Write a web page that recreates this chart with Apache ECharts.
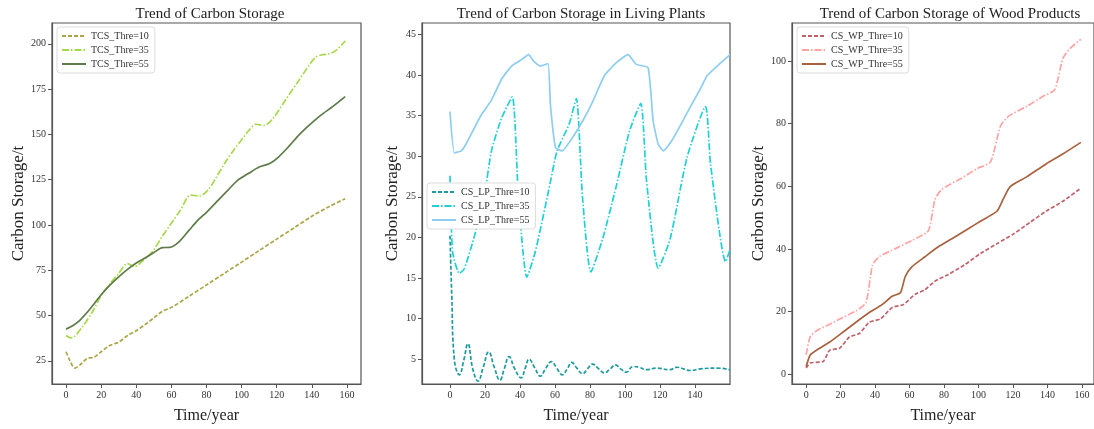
<!DOCTYPE html>
<html>
<head>
<meta charset="utf-8">
<script src="https://cdn.jsdelivr.net/npm/echarts@6/dist/echarts.min.js"></script>
<style>
  html, body { margin: 0; padding: 0; background: #fff; }
  #main { width: 1094px; height: 429px; }
</style>
</head>
<body>
<div id="main"></div>
<script>
// tick labels
var xTicks = [0, 20, 40, 60, 80, 100, 120, 140, 160];
var xTicksLP = [0, 20, 40, 60, 80, 100, 120, 140];
var yTicksTCS = [25, 50, 75, 100, 125, 150, 175, 200];
var yTicksLP = [5, 10, 15, 20, 25, 30, 35, 40, 45];
var yTicksWP = [0, 20, 40, 60, 80, 100];

// total carbon storage
var tcs10Years = [0, 2, 5, 8, 12, 16, 20, 25, 30, 35, 40, 45, 50, 55, 60, 70, 80, 90, 100, 110, 120, 130, 140, 150, 159];
var tcs10 = [30, 25.5, 21, 22.8, 26.3, 27, 30, 33.5, 35.3, 39, 41.6, 45, 48.7, 52.4, 54.5, 60.6, 66.9, 73.2, 79.5, 85.9, 92.2, 98.5, 104.8, 110.2, 114.5];
var tcs35Years = [0, 3, 9, 15, 20, 25, 30, 35, 39, 44, 49, 55, 60, 65, 71, 76, 81, 86, 91, 96, 100, 104, 108, 113, 118, 125, 132, 138, 142, 146, 150, 154, 159];
var tcs35 = [39, 37.6, 43.4, 52, 61, 67.5, 73.2, 78.7, 77, 80.5, 85, 94, 101, 108, 116.5, 116, 119.5, 127, 135, 142, 147, 152, 155.6, 155, 159, 169, 179, 187.5, 192.5, 194, 194.5, 196.5, 201.6];
var tcs55Years = [0, 4, 8, 14, 20, 25, 30, 35, 40, 45, 50, 55, 59, 64, 70, 75, 80, 87, 93, 98, 104, 110, 116, 121, 127, 133, 139, 145, 152, 159];
var tcs55 = [42.5, 44.5, 47.5, 54, 61.5, 66.8, 71.4, 75.5, 79, 81.8, 84.8, 87.5, 87.6, 90.4, 97, 102.5, 107, 114, 120, 124.9, 128.5, 132, 133.9, 137.5, 143.5, 150, 155.5, 160.5, 165.5, 170.9];

// carbon storage in living plants
var lp10Years = [0, 1, 2.5, 5.4, 7.9, 10.2, 13.1, 16, 19, 22.1, 25.3, 28.5, 31, 33.7, 37, 40.6, 43, 45.2, 48.5, 51.6, 54.5, 57.9, 61, 64.1, 67, 69.5, 72.5, 75.7, 78.5, 81.5, 85, 88.2, 91.5, 94.6, 97.5, 100.7, 104.6, 108, 112.3, 118, 125.7, 129.6, 137.3, 143.1, 152.7, 160];
var lp10 = [20.2, 12.9, 4.9, 3.07, 4.9, 6.9, 3.7, 2.3, 4, 5.9, 4, 2.4, 3.8, 5.3, 3.8, 2.7, 3.9, 5.0, 3.9, 2.9, 3.8, 4.7, 3.9, 3.07, 3.8, 4.6, 3.9, 3.2, 3.8, 4.4, 3.8, 3.3, 3.8, 4.3, 3.8, 3.4, 4.1, 4.0, 3.7, 3.9, 3.7, 4.0, 3.6, 3.8, 3.9, 3.7];
var lp35Years = [0, 1.5, 5.4, 8.3, 14, 19.8, 23.7, 29.5, 35.6, 39.1, 43.9, 48.7, 56.4, 61.2, 68, 72.2, 75.7, 80.5, 87.2, 94.9, 102.6, 109, 112.3, 119, 125.8, 135.4, 146, 148.9, 157.5, 160];
var lp35 = [27.6, 18.2, 15.55, 16.2, 20.2, 25.4, 30.65, 34.7, 37.3, 25, 15.1, 18.2, 25.8, 30.65, 33.9, 37.1, 25, 15.75, 19.8, 26.2, 33.1, 36.5, 27, 16.2, 19.8, 29.8, 36.1, 29, 17, 18.5];
var lp55Years = [0, 2.5, 6.4, 9.2, 14, 17.9, 23.7, 29.5, 35.2, 41, 44.9, 47.8, 51.6, 56, 57.4, 60.3, 64.1, 69.9, 75.7, 81.5, 88.2, 94.9, 101.7, 106.5, 113.2, 116.1, 119, 121.9, 127.7, 135.4, 143.1, 146.9, 152.7, 160];
var lp55 = [35.5, 30.4, 30.65, 31.5, 33.5, 35.1, 36.9, 39.5, 41.1, 41.9, 42.5, 41.7, 41.1, 41.4, 36.3, 31.05, 30.65, 32.25, 34.3, 36.7, 39.9, 41.5, 42.5, 41.3, 40.9, 34.3, 31.45, 30.65, 32.25, 35.3, 38.3, 39.9, 41.1, 42.5];

// carbon storage of wood products
var wp10Years = [0, 2.3, 9.9, 13.7, 19.4, 25.1, 30.9, 36.6, 43.2, 49.9, 56.6, 63.2, 68.9, 74.7, 82.3, 91.8, 101.3, 110.8, 120.4, 129.9, 139.4, 148.9, 159.4];
var wp10 = [2, 3.6, 4.1, 7.7, 8.3, 11.9, 13, 16.6, 17.7, 21.3, 22.3, 25.5, 27, 29.7, 31.8, 34.9, 38.6, 41.7, 44.8, 48.5, 52.1, 55.2, 59.4];
var wp35Years = [0, 2.3, 6.1, 13.7, 21.3, 28.9, 34.7, 38.5, 42.3, 51.8, 61.3, 70.9, 74.7, 78.5, 89.9, 99.4, 107, 112.8, 117.5, 128, 137.5, 144.2, 148.9, 152.8, 159.4];
var wp35 = [6.2, 11.9, 13.9, 16, 18.1, 20.2, 22.8, 34.8, 37.5, 40.1, 42.7, 45.8, 55.7, 58.9, 62.5, 65.7, 67.8, 79.3, 82.4, 85.5, 88.7, 90.8, 100.7, 103.8, 106.9];
var wp55Years = [0, 2.3, 6.1, 13.7, 21.3, 28.9, 36.6, 44.2, 49.9, 54.7, 57.5, 61.3, 68.9, 76.5, 86, 93.6, 101.3, 110.8, 114.6, 118.4, 127.9, 139.4, 148.9, 159.4];
var wp55 = [2.5, 6.1, 7.7, 10.3, 13.4, 16.6, 19.7, 22.3, 24.9, 26, 31.2, 34.3, 37.5, 40.6, 43.7, 46.3, 48.9, 52.1, 56.2, 59.9, 63, 67.2, 70.3, 74];

var FONT = 'Liberation Serif';
var DASH = [4, 2];
var DASHDOT = [7, 2, 1.5, 2];

function zip(xs, ys) {
    return xs.map(function (x, i) { return [x, ys[i]]; });
}

function line(name, idx, xs, ys, color, type, smooth) {
    return {
        name: name,
        type: 'line',
        xAxisIndex: idx,
        yAxisIndex: idx,
        data: zip(xs, ys),
        symbol: 'none',
        smooth: smooth,
        lineStyle: { color: color, width: 1.7, type: type },
        itemStyle: { color: color },
        z: 3
    };
}

function xAx(idx, min, max, ticks) {
    return {
        type: 'value', gridIndex: idx, min: min, max: max,
        name: 'Time/year', nameLocation: 'middle', nameGap: 24,
        nameTextStyle: { fontFamily: FONT, fontSize: 16, color: '#222' },
        splitLine: { show: false },
        axisLine: { show: true, onZero: false, lineStyle: { color: '#555', width: 1.2 } },
        axisTick: { show: true, length: 4, customValues: ticks, lineStyle: { color: '#555' } },
        axisLabel: { customValues: ticks, margin: 6, fontFamily: FONT, fontSize: 10, color: '#333' }
    };
}

function yAx(idx, min, max, ticks, gap) {
    return {
        type: 'value', gridIndex: idx, min: min, max: max,
        name: 'Carbon Storage/t', nameLocation: 'middle', nameGap: gap,
        nameTextStyle: { fontFamily: FONT, fontSize: 17, color: '#222' },
        splitLine: { show: false },
        axisLine: { show: true, onZero: false, lineStyle: { color: '#555', width: 1.2 } },
        axisTick: { show: true, length: 4, customValues: ticks, lineStyle: { color: '#555' } },
        axisLabel: { customValues: ticks, margin: 6, fontFamily: FONT, fontSize: 10, color: '#333' }
    };
}

function legendAt(left, top, names) {
    return {
        left: left, top: top, orient: 'vertical', data: names,
        itemWidth: 24, itemHeight: 10, itemGap: 4,
        padding: [4, 6, 4, 4],
        borderColor: '#ddd', borderWidth: 1, borderRadius: 3,
        backgroundColor: '#fff',
        itemStyle: { opacity: 0 },
        textStyle: { fontFamily: FONT, fontSize: 10, color: '#333' }
    };
}

function titleAt(left, text) {
    return {
        text: text, left: left, top: 2, textAlign: 'center',
        textStyle: { fontFamily: FONT, fontSize: 15, fontWeight: 'normal', color: '#222' }
    };
}

var chart = echarts.init(document.getElementById('main'));
var option = {
    animation: false,
    backgroundColor: '#fff',
    title: [
        titleAt(205, 'Trend of Carbon Storage'),
        titleAt(576, 'Trend of Carbon Storage in Living Plants'),
        titleAt(945, 'Trend of Carbon Storage of Wood Products')
    ],
    legend: [
        legendAt(57, 27, ['TCS_Thre=10', 'TCS_Thre=35', 'TCS_Thre=55']),
        legendAt(427, 183, ['CS_LP_Thre=10', 'CS_LP_Thre=35', 'CS_LP_Thre=55']),
        legendAt(797, 27, ['CS_WP_Thre=10', 'CS_WP_Thre=35', 'CS_WP_Thre=55'])
    ],
    grid: [
        { left: 52, top: 23, width: 309, height: 368, show: true, borderColor: '#555', borderWidth: 1.2 },
        { left: 422, top: 23, width: 308, height: 368, show: true, borderColor: '#555', borderWidth: 1.2 },
        { left: 792, top: 23, width: 306, height: 368, show: true, borderColor: '#555', borderWidth: 1.2 }
    ],
    xAxis: [
        xAx(0, -8, 168, xTicks),
        xAx(1, -16, 160, xTicksLP),
        xAx(2, -8.2, 167, xTicks)
    ],
    yAxis: [
        yAx(0, 12.2, 211.5, yTicksTCS, 25),
        yAx(1, 1.94, 46.4, yTicksLP, 21),
        yAx(2, -3.1, 112.1, yTicksWP, 24)
    ],
    series: [
        line('TCS_Thre=10', 0, tcs10Years, tcs10, '#aaa648', DASH, 0.3),
        line('TCS_Thre=35', 0, tcs35Years, tcs35, '#a6d94a', DASHDOT, 0.3),
        line('TCS_Thre=55', 0, tcs55Years, tcs55, '#5f7b4a', 'solid', 0.3),
        line('CS_LP_Thre=10', 1, lp10Years, lp10, '#1d9a9c', DASH, 0.45),
        line('CS_LP_Thre=35', 1, lp35Years, lp35, '#1fd0d6', DASHDOT, 0.2),
        line('CS_LP_Thre=55', 1, lp55Years, lp55, '#8ccdf0', 'solid', 0.15),
        line('CS_WP_Thre=10', 2, wp10Years, wp10, '#c0606a', DASH, 0.2),
        line('CS_WP_Thre=35', 2, wp35Years, wp35, '#ffa3a3', DASHDOT, 0.2),
        line('CS_WP_Thre=55', 2, wp55Years, wp55, '#a9623f', 'solid', 0.2)
    ]
};
chart.setOption(option);
</script>
</body>
</html>
